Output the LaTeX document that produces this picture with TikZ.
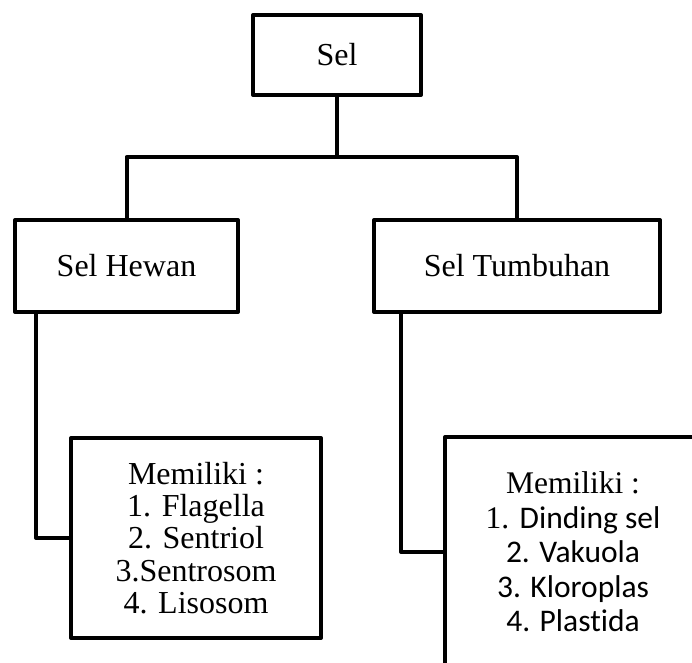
\documentclass[tikz,border=0pt]{standalone}
\usepackage{fontspec}
\setmainfont{Liberation Serif}
\newfontfamily\calib[Ligatures={NoCommon}]{Carlito}
\begin{document}
\begin{tikzpicture}[x=1pt,y=-1pt,
  box/.style={draw=black,line width=4pt,line join=round,fill=white,inner sep=0pt,
              font=\fontsize{32}{32.3}\selectfont,align=center},
  link/.style={draw=black,line width=4pt,line join=round}]
  \clip (0,0) rectangle (692,662);
  \fill[white] (0,0) rectangle (692,662);

  % boxes
  \node[box,minimum width=168pt,minimum height=80pt] (sel) at (337,55) {Sel};
  \node[box,minimum width=223pt,minimum height=92pt] (hewan) at (126.5,266) {Sel Hewan};
  \node[box,minimum width=286pt,minimum height=92pt] (tumb) at (517,266) {Sel Tumbuhan};
  \node[box,minimum width=250pt,minimum height=200pt] (listA) at (196,538)
    {Memiliki :\\1. Flagella\\2. Sentriol\\3.Sentrosom\\4. Lisosom};
  \node[box,minimum width=256pt,minimum height=230pt,font=\fontsize{31.5}{34.5}\selectfont] (listB) at (573,552)
    {Memiliki :\\1. {\calib Dinding sel}\\{\calib 2. Vakuola}\\{\calib 3. Kloroplas}\\{\calib 4. Plastida}};

  % tree connectors
  \coordinate (fork) at (337,157);
  \draw[link] (sel.south) -- (fork);
  \draw[link] (hewan.north) |- (fork) -| (tumb.north);
  \coordinate (dropA) at (36,314);
  \coordinate (dropB) at (401,314);
  \draw[link] (dropA |- hewan.south) |- (listA.west);
  \draw[link] (dropB |- tumb.south) |- (listB.west);
\end{tikzpicture}
\end{document}
